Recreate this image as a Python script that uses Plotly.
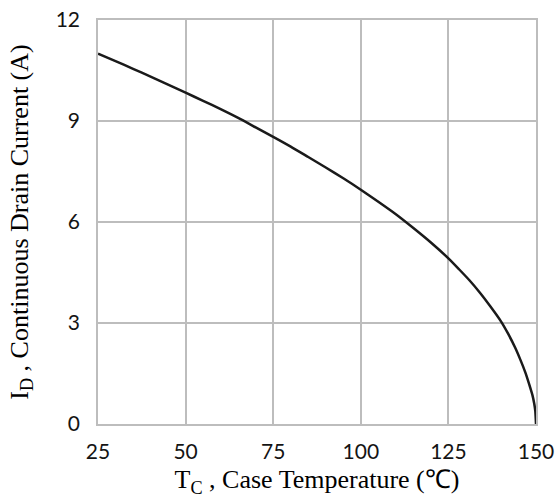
import plotly.graph_objects as go

# Case temperature (°C) and continuous drain current (A)
temp_c = [25, 30, 35, 40, 45, 50, 55, 60, 65, 70, 75, 80, 85, 90, 95, 100, 105, 110,
          115, 120, 125, 128, 131, 134, 137, 140, 142, 144, 145.5, 147, 148, 149, 149.5, 149.8, 150]
drain_a = [11.0, 10.78, 10.55, 10.32, 10.08, 9.84, 9.6, 9.35, 9.09, 8.81, 8.53, 8.24, 7.93,
           7.62, 7.3, 6.96, 6.6, 6.23, 5.82, 5.39, 4.92, 4.6, 4.27, 3.9, 3.49, 3.05, 2.69, 2.28,
           1.92, 1.52, 1.2, 0.85, 0.6, 0.38, 0.0]

x_ticks = [25, 50, 75, 100, 125, 150]
y_ticks = [0, 3, 6, 9, 12]

grid_color = "#bdbdbd"
tick_font = dict(family="Lato, Open Sans, sans-serif", size=21, color="#141414")
title_font = dict(family="Liberation Serif, Times New Roman, serif", size=26, color="#000000")

fig = go.Figure()
fig.add_trace(go.Scatter(
    x=temp_c, y=drain_a, mode="lines",
    line=dict(color="#1a1a1a", width=2.5, shape="spline", smoothing=0.6),
    showlegend=False, hoverinfo="skip",
))

fig.update_layout(
    template="none",
    width=555, height=504,
    margin=dict(l=98, r=19, t=20, b=80),
    paper_bgcolor="white", plot_bgcolor="white",
)
fig.update_xaxes(
    range=[25, 150], tickvals=x_ticks, ticktext=[str(v) for v in x_ticks],
    showgrid=True, gridcolor=grid_color, gridwidth=1.5,
    showline=True, linecolor=grid_color, linewidth=1.5, mirror=True,
    zeroline=False, ticks="", tickfont=tick_font, ticklabelstandoff=8,
    automargin=False,
    title=dict(text="T<sub>C</sub> , Case Temperature (℃)", font=title_font, standoff=8),
)
fig.update_yaxes(
    range=[0, 12], tickvals=y_ticks, ticktext=[str(v) for v in y_ticks],
    showgrid=True, gridcolor=grid_color, gridwidth=1.5,
    showline=True, linecolor=grid_color, linewidth=1.5, mirror=True,
    zeroline=False, ticks="", tickfont=tick_font, ticklabelstandoff=12,
    automargin=False,
    title=dict(text="I<sub>D</sub> , Continuous Drain Current (A)", font=title_font, standoff=20),
)

fig.write_html("out.html")
